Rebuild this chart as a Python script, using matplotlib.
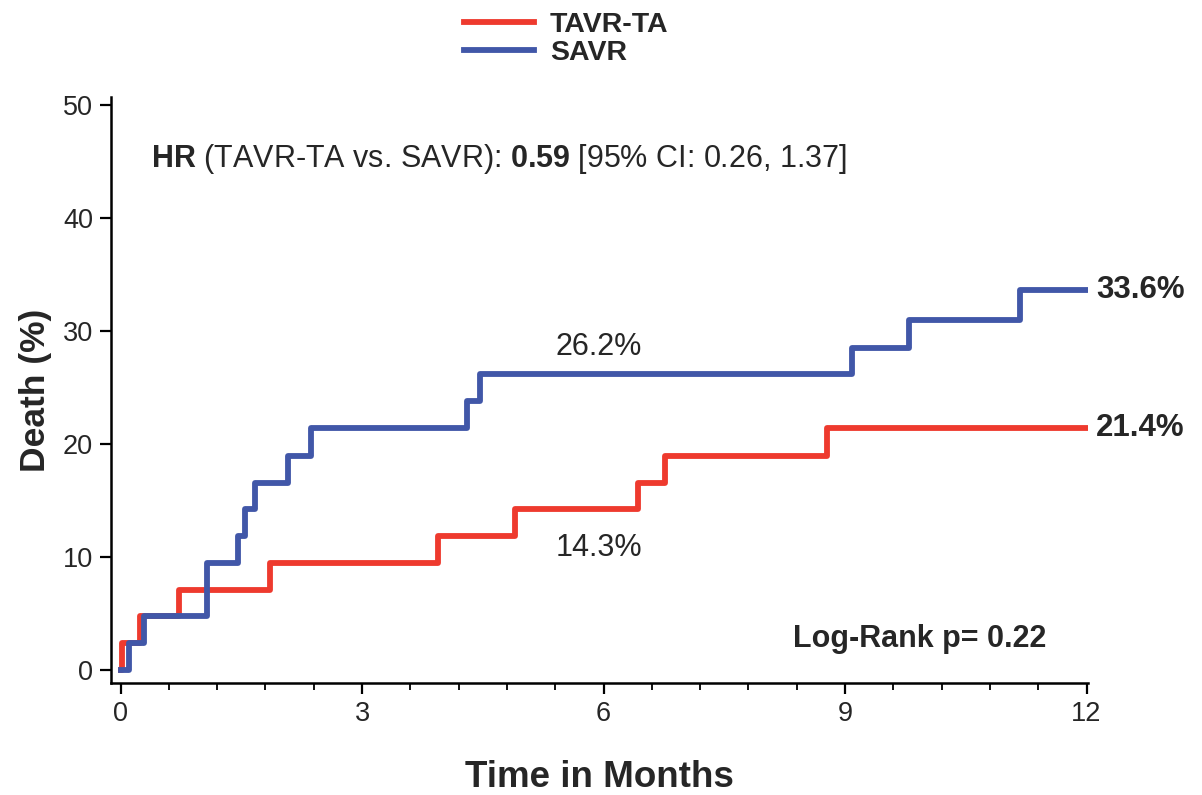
import matplotlib
matplotlib.use('Agg')
import matplotlib.pyplot as plt
from matplotlib.ticker import MultipleLocator

plt.rcParams['font.family'] = ['Liberation Sans', 'DejaVu Sans']
plt.rcParams['mathtext.fontset'] = 'custom'
plt.rcParams['mathtext.rm'] = 'Liberation Sans'
plt.rcParams['mathtext.bf'] = 'Liberation Sans:bold'

# Kaplan-Meier cumulative death (%)
tavr_t = [0, 0.02, 0.24, 0.72, 1.85, 3.94, 4.9, 6.43, 6.76, 8.77, 12]
tavr_y = [0, 2.4, 4.8, 7.1, 9.5, 11.9, 14.3, 16.6, 19.0, 21.4, 21.4]
savr_t = [0, 0.1, 0.29, 1.07, 1.46, 1.54, 1.67, 2.08, 2.37, 4.3, 4.46, 9.08, 9.79, 11.17, 12]
savr_y = [0, 2.4, 4.8, 9.5, 11.9, 14.3, 16.6, 19.0, 21.4, 23.8, 26.2, 28.5, 31.0, 33.6, 33.6]

x_ticks = [0, 3, 6, 9, 12]
y_ticks = [0, 10, 20, 30, 40, 50]

red = '#EE3A2E'
blue = '#4157A8'
txt = '#262626'

fig = plt.figure(figsize=(12.02, 7.95), dpi=100)
ax = fig.add_axes([0.0923, 0.141, 0.813, 0.737])

l1, = ax.step(tavr_t, tavr_y, where='post', color=red, lw=4.2, label='TAVR-TA', zorder=2)
l2, = ax.step(savr_t, savr_y, where='post', color=blue, lw=4.2, label='SAVR', zorder=3)

ax.set_xlim(-0.12, 12.02)
ax.set_ylim(-1.1, 50.7)
ax.set_xticks(x_ticks)
ax.set_yticks(y_ticks)
ax.xaxis.set_minor_locator(MultipleLocator(0.6))
ax.tick_params(axis='both', which='major', length=8, width=1.6, labelsize=19.5, labelcolor=txt, pad=5)
ax.tick_params(axis='x', which='minor', length=5, width=1.3)
for s in ['top', 'right']:
    ax.spines[s].set_visible(False)
for s in ['left', 'bottom']:
    ax.spines[s].set_linewidth(1.8)

ax.set_xlabel('Time in Months', fontsize=26.5, fontweight='bold', color=txt, labelpad=24)
ax.set_ylabel('Death (%)', fontsize=25.5, fontweight='bold', color=txt, labelpad=8)

ax.text(0.38, 45.2, r'$\mathbf{HR}$ (TAVR-TA vs. SAVR): $\mathbf{0.59}$ [95% CI: 0.26, 1.37]',
        fontsize=22, color=txt, va='center', ha='left')
ax.text(5.94, 28.6, '26.2%', fontsize=22, color=txt, ha='center', va='center')
ax.text(5.94, 10.8, '14.3%', fontsize=22, color=txt, ha='center', va='center')
ax.text(12.12, 33.6, '33.6%', fontsize=22.5, fontweight='bold', color=txt, ha='left', va='center', clip_on=False)
ax.text(12.12, 21.4, '21.4%', fontsize=22.5, fontweight='bold', color=txt, ha='left', va='center', clip_on=False)
ax.text(11.5, 2.8, 'Log-Rank p= 0.22', fontsize=22, fontweight='bold', color=txt, ha='right', va='center')

fig.legend(handles=[l1, l2], loc='upper left', bbox_to_anchor=(0.365, 1.017), frameon=False,
           prop={'size': 20.5, 'weight': 'bold'}, handlelength=2.45, labelspacing=0.05,
           handletextpad=0.55, labelcolor=txt)

fig.savefig('out.png', dpi=100)
